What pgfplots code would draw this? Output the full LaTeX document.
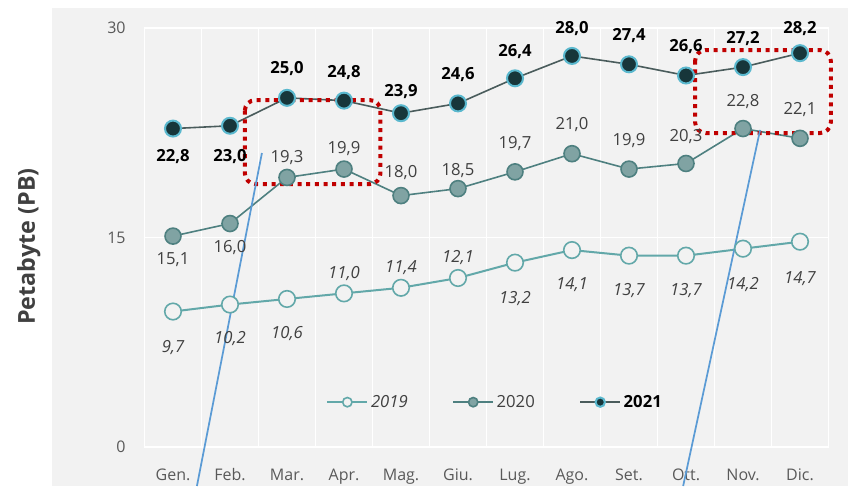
\documentclass[border=0pt]{standalone}
\usepackage{pgfplots}
\pgfplotsset{compat=1.18}
\usepackage{pgfplotstable}
\usepackage{fontspec}
\setmainfont{Open Sans}
\definecolor{panel}{HTML}{F2F2F2}
\definecolor{tickc}{HTML}{595959}
\definecolor{labc}{HTML}{404040}
\definecolor{cA}{HTML}{62A8A9}
\definecolor{cBfill}{HTML}{80A3A3}
\definecolor{cBedge}{HTML}{4E8080}
\definecolor{cCfill}{HTML}{17363A}
\definecolor{cCedge}{HTML}{5AB8CE}
\definecolor{cCline}{HTML}{4A5C5C}
\definecolor{redd}{HTML}{C00000}
\definecolor{bluel}{HTML}{5B9BD5}

\pgfplotstableread{
x y lab dy
0 9.7 9,7 -26.6
1 10.2 10,2 -25
2 10.6 10,6 -25.5
3 11.0 11,0 16
4 11.4 11,4 16
5 12.1 12,1 16
6 13.2 13,2 -26
7 14.1 14,1 -25
8 13.7 13,7 -25.5
9 13.7 13,7 -25.5
10 14.2 14,2 -26
11 14.7 14,7 -26.5
}\tabA
\pgfplotstableread{
x y lab dy
0 15.1 15,1 -16.5
1 16.0 16,0 -17.5
2 19.3 19,3 16
3 19.9 19,9 16.5
4 18.0 18,0 18
5 18.5 18,5 14.5
6 19.7 19,7 22
7 21.0 21,0 22.5
8 19.9 19,9 22.5
9 20.3 20,3 21
10 22.8 22,8 21
11 22.1 22,1 22.5
}\tabB
\pgfplotstableread{
x y lab dy
0 22.8 22,8 -20.5
1 23.0 23,0 -22
2 25.0 25,0 22.5
3 24.8 24,8 22
4 23.9 23,9 17
5 24.6 24,6 22.5
6 26.4 26,4 21
7 28.0 28,0 21
8 27.4 27,4 22
9 26.6 26,6 22.5
10 27.2 27,2 22.5
11 28.2 28,2 19.5
}\tabC

\begin{document}
\begin{tikzpicture}
\path[use as bounding box] (-108.375pt,-29.25pt) rectangle (527.625pt,335.25pt);
\fill[panel] (-69.375pt,-29.25pt) rectangle (527.625pt,329.25pt);
\begin{axis}[
  at={(0pt,0pt)}, anchor=south west,
  scale only axis, width=513pt, height=314.25pt,
  xmin=-0.5, xmax=11.5, ymin=0, ymax=30,
  clip=false,
  axis line style={draw=none},
  major tick length=0pt, minor tick length=0pt,
  xtick={0,...,11},
  xticklabels={Gen.,Feb.,Mar.,Apr.,Mag.,Giu.,Lug.,Ago.,Set.,Ott.,Nov.,Dic.},
  minor xtick={-0.5,0.5,...,11.5},
  xminorgrids=true, xmajorgrids=false,
  ytick={0,15,30}, ymajorgrids=true,
  grid style={white, line width=1.2pt},
  minor grid style={white, line width=1.2pt},
  /pgf/number format/assume math mode=true,
  tick label style={font=\fontsize{12}{14}\selectfont, text=tickc},
  xticklabel style={anchor=base, yshift=-25pt},
  yticklabel style={anchor=east, inner sep=0pt, xshift=-14pt},
  ylabel={Petabyte (PB)},
  ylabel style={at={(rel axis cs:-0.169,0.4785)}, anchor=center, rotate=0,
    font=\fontsize{17.5}{19}\selectfont\bfseries, text=labc},
  point meta=explicit symbolic,
  nodes near coords={\pgfplotspointmeta},
  visualization depends on={\thisrow{dy} \as \dy},
  every node near coord/.append style={anchor=center, yshift=\dy pt,
     text height=9pt, text depth=0pt, inner sep=0pt},
  legend style={at={(rel axis cs:0.513,0.107)}, anchor=center, draw=none, fill=none,
    font=\fontsize{12.5}{14}\selectfont, text=labc,
    /tikz/every even column/.append style={column sep=31.5pt},
    cells={anchor=west}},
  legend columns=3,
  legend image code/.code={\draw[mark repeat=2,mark phase=2,#1,mark size=3.5pt]
     plot coordinates {(0pt,0pt)(15pt,0pt)(30pt,0pt)};},
]
\addplot[color=cA, line width=1.5pt, mark=*, mark size=6.2pt,
  mark options={fill=panel, draw=cA, line width=1.2pt},
  nodes near coords style={font=\fontsize{12.5}{14}\selectfont\itshape, text=labc}]
  table[x=x, y=y, meta=lab] {\tabA};
\addlegendentry{\textit{2019}}
\addplot[color=cBedge, line width=1.2pt, mark=*, mark size=6pt,
  mark options={fill=cBfill, draw=cBedge, line width=1.2pt},
  nodes near coords style={font=\fontsize{12.5}{14}\selectfont, text=labc}]
  table[x=x, y=y, meta=lab] {\tabB};
\addlegendentry{2020}
\addplot[color=cCline, line width=1.2pt, mark=*, mark size=6pt,
  mark options={fill=cCfill, draw=cCedge, line width=1.5pt},
  nodes near coords style={font=\fontsize{12.5}{14}\selectfont\bfseries, text=black}]
  table[x=x, y=y, meta=lab] {\tabC};
\addlegendentry{\textbf{\textcolor{black}{2021}}}
\draw[redd, line width=3pt, dash pattern=on 3pt off 3.5pt, rounded corners=8pt]
  (axis cs:1.26,24.84) rectangle (axis cs:3.64,18.83);
\draw[redd, line width=3pt, dash pattern=on 3pt off 3.5pt, rounded corners=8pt]
  (axis cs:9.16,28.42) rectangle (axis cs:11.54,22.48);
\draw[bluel, line width=1.3pt] (axis cs:1.56,21.05) -- (axis cs:0.42,-2.79);
\draw[bluel, line width=1.3pt] (axis cs:10.30,22.70) -- (axis cs:8.95,-2.79);
\end{axis}
\end{tikzpicture}
\end{document}
